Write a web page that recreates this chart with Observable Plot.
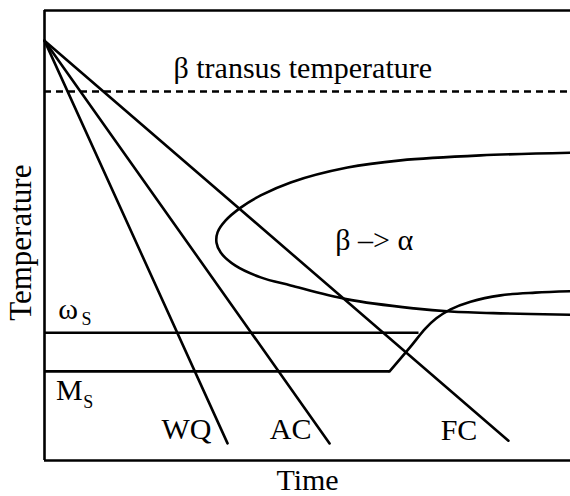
<!DOCTYPE html>
<html>
<head>
<meta charset="utf-8">
<script src="https://cdn.jsdelivr.net/npm/d3@7"></script>
<script src="https://cdn.jsdelivr.net/npm/@observablehq/plot@0.6"></script>
<style>
  html, body { margin: 0; padding: 0; background: white; }
</style>
</head>
<body>
<div id="chart"></div>
<script>
// Schematic CCT diagram, time and temperature in arbitrary units (0..100)
const startTime = 0;
const startTemp = 93.3;
const coolingNames = ["WQ", "AC", "FC"];
const coolingEndTime = [34.8, 54.2, 88.2];
const coolingEndTemp = [3.8, 3.8, 4.4];

const betaTransusTemp = 82;
const omegaStartTemp = 28.4;
const omegaEndTime = 71.2;
const msTemp = 19.8;

// beta -> alpha C-curve
const cCurveTime = [100, 82.9, 67.7, 57.6, 46.8, 41.1, 37.3, 34.4, 32.9, 32.7, 33.5, 36.3, 41.1, 46.8, 57.6, 70.2, 77.2, 86.7, 100];
const cCurveTemp = [68.4, 67.8, 66.7, 65.1, 61.8, 58.9, 56.2, 53.3, 50.7, 48.4, 46.2, 43.3, 40.7, 38.9, 35.8, 33.8, 33.1, 32.7, 32.4];

// Ms line rising into curve
const msCurveTime = [65.6, 69.6, 72.4, 74.5, 77.2, 81.0, 86.7, 93.3, 100];
const msCurveTemp = [19.8, 25.3, 29.3, 31.6, 33.6, 35.3, 36.7, 37.3, 37.6];

// labels
const labelText = ["β transus temperature", "β –> α", "WQ", "AC", "FC", "ω", "M"];
const labelTime = [49.1, 62.7, 27.0, 46.8, 78.8, 4.5, 4.7];
const labelTemp = [87.1, 48.9, 7.0, 7.0, 6.7, 33.6, 15.6];
const subText = ["S", "S"];
const subTime = [8.0, 8.3];
const subTemp = [31.3, 13.0];

const font = "'Liberation Serif', 'Times New Roman', 'DejaVu Serif', serif";
const sw = 2.6;

const cooling = coolingNames.flatMap((name, i) => [
  {name, t: startTime, T: startTemp},
  {name, t: coolingEndTime[i], T: coolingEndTemp[i]}
]);
const cCurve = cCurveTime.map((t, i) => ({t, T: cCurveTemp[i]}));
const msCurve = msCurveTime.map((t, i) => ({t, T: msCurveTemp[i]}));

const chart = Plot.plot({
  width: 570,
  height: 496,
  marginLeft: 44,
  marginRight: 0,
  marginTop: 10,
  marginBottom: 36,
  x: {domain: [0, 100], axis: null},
  y: {domain: [0, 100], axis: null},
  style: {fontFamily: font, background: "white", color: "black"},
  marks: [
    Plot.ruleX([0], {stroke: "black", strokeWidth: sw}),
    Plot.ruleY([0], {stroke: "black", strokeWidth: sw}),
    Plot.ruleY([100], {stroke: "black", strokeWidth: sw}),
    Plot.ruleY([betaTransusTemp], {stroke: "black", strokeWidth: sw, strokeDasharray: "7,5"}),
    Plot.ruleY([omegaStartTemp], {x1: 0, x2: omegaEndTime, stroke: "black", strokeWidth: sw}),
    Plot.ruleY([msTemp], {x1: 0, x2: msCurveTime[0], stroke: "black", strokeWidth: sw}),
    Plot.line(msCurve, {x: "t", y: "T", curve: "catmull-rom", stroke: "black", strokeWidth: sw}),
    Plot.line(cCurve, {x: "t", y: "T", curve: "catmull-rom", stroke: "black", strokeWidth: sw}),
    Plot.line(cooling, {x: "t", y: "T", z: "name", stroke: "black", strokeWidth: sw}),
    Plot.text(labelText, {x: labelTime, y: labelTemp, text: d => d, fontSize: 30, fill: "black"}),
    Plot.text(subText, {x: subTime, y: subTemp, text: d => d, fontSize: 18, fill: "black"}),
    Plot.text(["Time"], {frameAnchor: "bottom", dy: 29, fontSize: 30, fill: "black"}),
    Plot.text(["Temperature"], {x: [0], y: [48.4], dx: -23, rotate: -90, fontSize: 31, fill: "black"})
  ]
});
document.getElementById("chart").appendChild(chart);
</script>
</body>
</html>
